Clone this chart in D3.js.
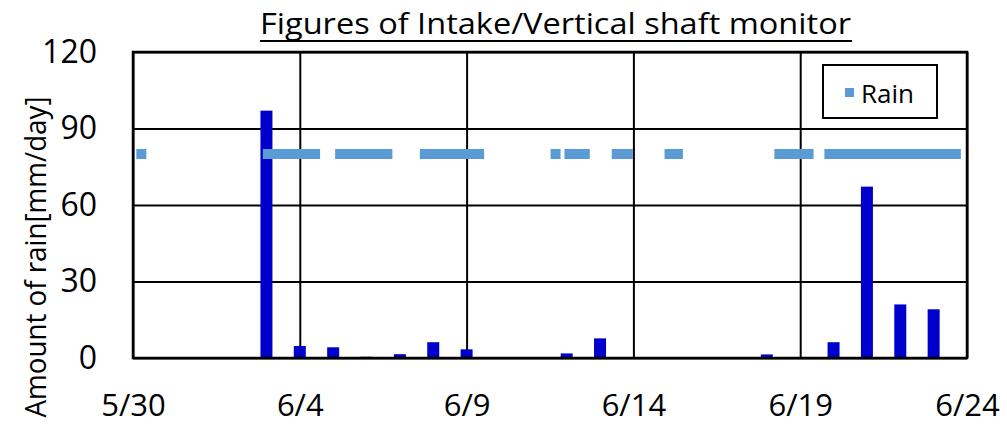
<!DOCTYPE html>
<html>
<head>
<meta charset="utf-8">
<script src="https://cdn.jsdelivr.net/npm/d3@7"></script>
<style>
  body { margin: 0; background: #fff; }
  text { font-family: "Open Sans", sans-serif; fill: #000; }
</style>
</head>
<body>
<div id="chart"></div>
<script>
// daily rain amount [mm/day]
var barDays   = ["6/3", "6/4", "6/5", "6/6", "6/7", "6/8", "6/9", "6/12", "6/13", "6/18", "6/20", "6/21", "6/22", "6/23"];
var barValues = [97, 4.7, 4.2, 0.5, 1.5, 6.2, 3.4, 1.8, 7.7, 1.4, 6.2, 67.2, 21, 19.1];

// periods where the "Rain" marker is shown (start, end)
var rainStart = ["5/30 06:00", "6/3 01:00", "6/5 05:00", "6/7 18:00", "6/11 16:00", "6/12 02:00", "6/13 12:00", "6/15 02:00", "6/18 09:00", "6/19 21:00"];
var rainEnd   = ["5/30 06:00", "6/4 11:00", "6/6 15:00", "6/9 09:00", "6/11 16:00", "6/12 13:00", "6/13 20:00", "6/15 08:00", "6/19 06:00", "6/23 16:00"];
var rainLevel = 80;

var xTicks = ["5/30", "6/4", "6/9", "6/14", "6/19", "6/24"];
var yTicks = [0, 30, 60, 90, 120];

var margin = {top: 52, right: 40, bottom: 68, left: 133},
    width = 1007 - margin.left - margin.right,
    height = 426 - margin.top - margin.bottom;

var parseDay = d3.utcParse("%m/%d"),
    parseTime = d3.utcParse("%m/%d %H:%M");

var svg = d3.select("#chart")
  .append("svg")
    .attr("width", 1007)
    .attr("height", 426);

var g = svg.append("g")
    .attr("transform", "translate(" + margin.left + "," + margin.top + ")");

var x = d3.scaleUtc()
    .domain([parseDay(xTicks[0]), parseDay(xTicks[xTicks.length - 1])])
    .range([0, width]);

var y = d3.scaleLinear()
    .domain([0, 120])
    .range([height, 0]);

// horizontal grid + y labels
var yAxis = g.append("g")
    .call(d3.axisLeft(y).tickValues(yTicks).tickSize(-width).tickPadding(36));
yAxis.select(".domain").remove();
yAxis.selectAll("line").attr("stroke", "#000").attr("stroke-width", 2);
yAxis.selectAll("text").style("font-size", "32px");

// vertical grid + x labels
var xAxis = g.append("g")
    .attr("transform", "translate(0," + height + ")")
    .call(d3.axisBottom(x)
      .tickValues(xTicks.map(parseDay))
      .tickFormat(d3.utcFormat("%-m/%-d"))
      .tickSize(-height)
      .tickPadding(36));
xAxis.select(".domain").remove();
xAxis.selectAll("line").attr("stroke", "#000").attr("stroke-width", 2);
xAxis.selectAll("text").style("font-size", "31px");

// bars
var barW = 12;
g.selectAll("rect.bar")
  .data(barDays.map(function(d, i) { return {day: parseDay(d), value: barValues[i]}; }))
  .enter()
  .append("rect")
    .attr("class", "bar")
    .attr("x", function(d) { return x(d.day) - barW / 2; })
    .attr("width", barW)
    .attr("y", function(d) { return y(d.value); })
    .attr("height", function(d) { return height - y(d.value); })
    .attr("fill", "#0000cc");

// rain markers
var mk = 10;
g.selectAll("rect.rain")
  .data(rainStart.map(function(s, i) { return {s: parseTime(s), e: parseTime(rainEnd[i])}; }))
  .enter()
  .append("rect")
    .attr("class", "rain")
    .attr("x", function(d) { return x(d.s) - mk / 2; })
    .attr("width", function(d) { return x(d.e) - x(d.s) + mk; })
    .attr("y", y(rainLevel) - mk / 2)
    .attr("height", mk)
    .attr("fill", "#5b9bd5");

// plot border
g.append("rect")
    .attr("width", width)
    .attr("height", height)
    .attr("fill", "none")
    .attr("stroke", "#000")
    .attr("stroke-width", 2.5);

// legend
var legend = svg.append("g").attr("transform", "translate(823,65)");
legend.append("rect")
    .attr("width", 114)
    .attr("height", 53)
    .attr("fill", "#fff")
    .attr("stroke", "#000")
    .attr("stroke-width", 2);
legend.append("rect")
    .attr("x", 22).attr("y", 23)
    .attr("width", 9).attr("height", 9)
    .attr("fill", "#5b9bd5");
legend.append("text")
    .attr("x", 38).attr("y", 38)
    .style("font-size", "26px")
    .text("Rain");

// title
svg.append("text")
    .attr("x", 555.5).attr("y", 34)
    .attr("text-anchor", "middle")
    .attr("textLength", 591)
    .attr("lengthAdjust", "spacingAndGlyphs")
    .style("font-size", "30px")
    .text("Figures of Intake/Vertical shaft monitor");
svg.append("line")
    .attr("x1", 260).attr("x2", 852)
    .attr("y1", 41).attr("y2", 41)
    .attr("stroke", "#000")
    .attr("stroke-width", 2);

// y axis title
svg.append("text")
    .attr("transform", "translate(46,257) rotate(-90)")
    .attr("text-anchor", "middle")
    .attr("textLength", 321)
    .attr("lengthAdjust", "spacingAndGlyphs")
    .style("font-size", "30px")
    .text("Amount of rain[mm/day]");
</script>
</body>
</html>
